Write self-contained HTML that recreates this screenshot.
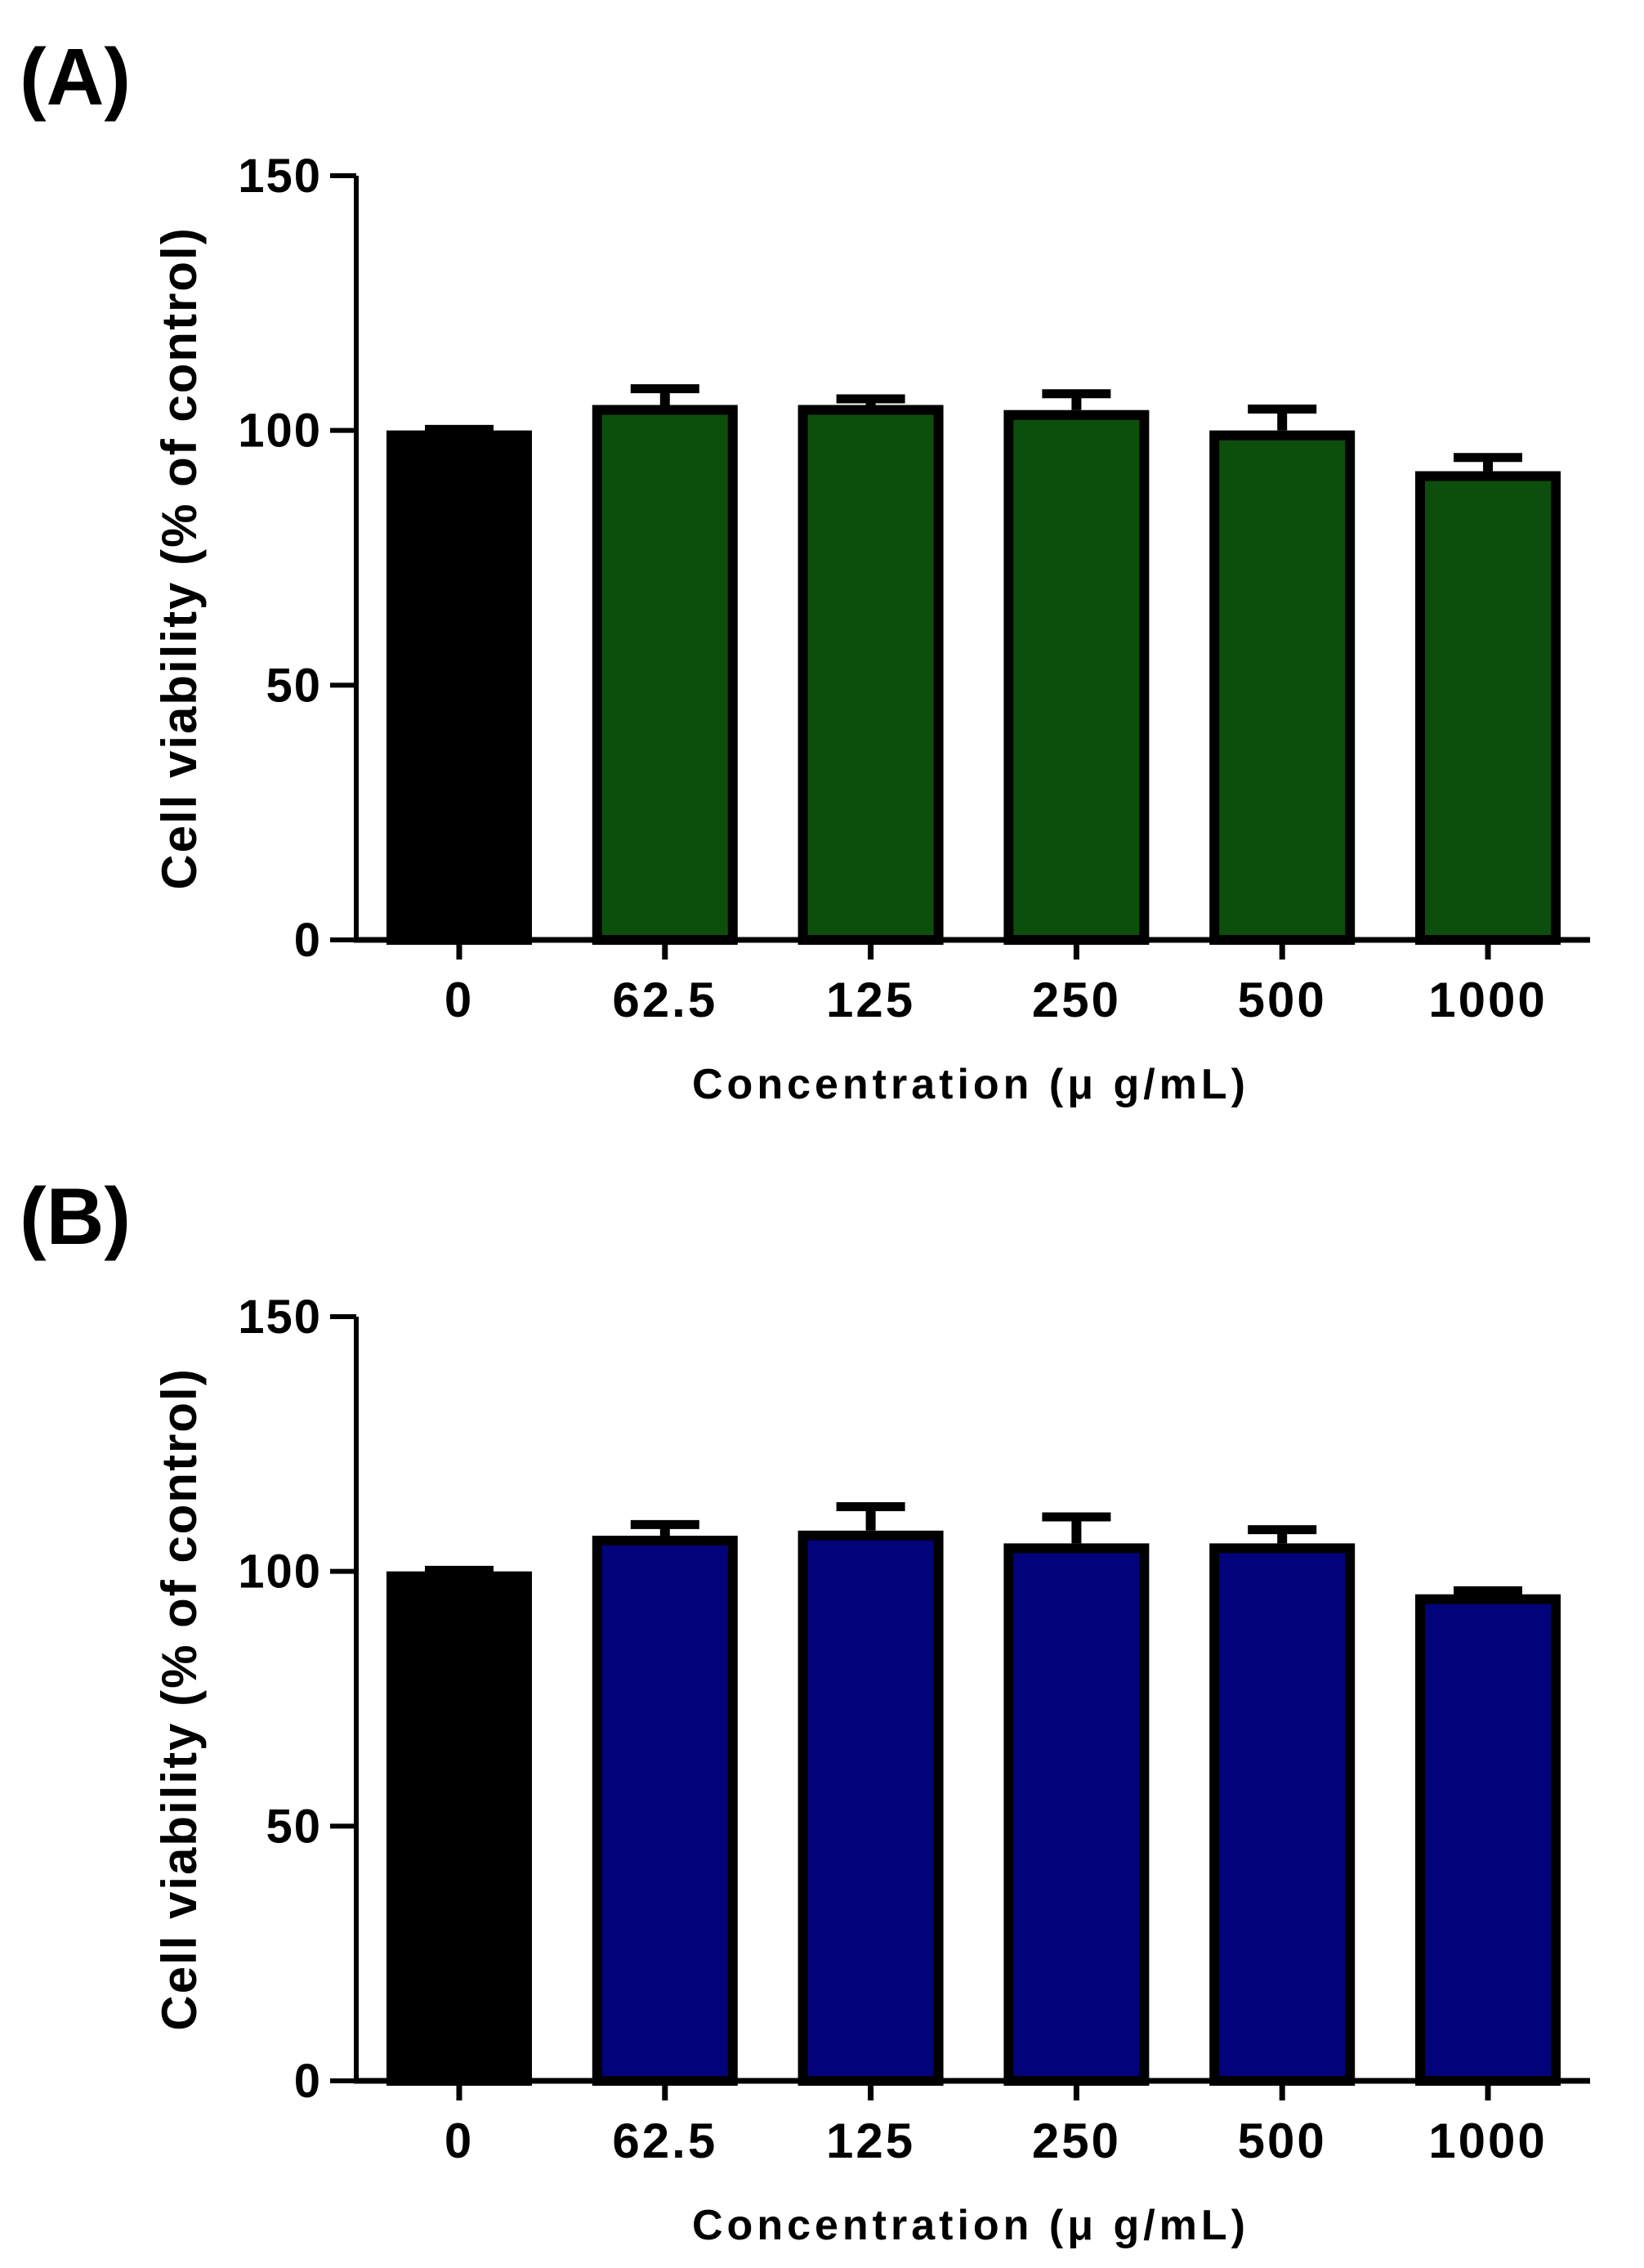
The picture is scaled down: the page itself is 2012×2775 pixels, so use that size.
<!DOCTYPE html>
<html><head><meta charset="utf-8"><style>
html,body{margin:0;padding:0;background:#fff;}
svg{display:block;}
text{font-family:"Liberation Sans",Arial,sans-serif;font-weight:bold;fill:#000;}
</style></head><body>
<svg id="fig" width="2012" height="2775" viewBox="0 0 2012 2775" xmlns="http://www.w3.org/2000/svg">
<text x="24" y="128" font-size="98">(A)</text>
<text x="24" y="1522" font-size="98">(B)</text>
</svg>
<script>
const categories = ["0","62.5","125","250","500","1000"];
const valuesA = [100,105,105,104,100,92];
const errorsA = [1,4,2,4,5,3.5];
const valuesB = [100,107,108,105.5,105.5,95.5];
const errorsB = [1,3,5.5,6,3.5,1.5];
const yTicks = [0,50,100,150];
const NS = "http://www.w3.org/2000/svg";
const svg = document.getElementById('fig');
function mk(tag, attrs, parent){
  const e = document.createElementNS(NS, tag);
  for (const k in attrs) e.setAttribute(k, attrs[k]);
  (parent||svg).appendChild(e);
  return e;
}
function panel(id, top, values, errors, color){
  const g = mk('g', {});
  
  
  const y0 = top + 935, yMax = 150;
  const ax = 436, axEnd = 1946;
  const yS = v => y0 - v / yMax * 935;
  const bw = 178, step = 251.8, x0 = 473;
  const xC = i => x0 + i * step + bw / 2;
  values.forEach((v, i) => {
    const bs = 12;
    const r = mk('rect', {x: x0 + i*step + bs/2, y: yS(v) + bs/2, width: bw - bs, height: y0 - yS(v) - bs/2,
      fill: i === 0 ? '#000' : color, stroke: '#000', 'stroke-width': bs}, g);
    
    
    const e = mk('g', {}, g);
    
    
    const ye = yS(v + errors[i]);
    mk('line', {x1: xC(i), x2: xC(i), y1: yS(v), y2: ye, stroke: '#000', 'stroke-width': 12}, e);
    mk('line', {x1: xC(i) - 42, x2: xC(i) + 42, y1: ye + 5, y2: ye + 5, stroke: '#000', 'stroke-width': 11}, e);
  });
  const ya = mk('line', {x1: ax, x2: ax, y1: top, y2: y0 + 3, stroke: '#000', 'stroke-width': 6}, g);
  
  
  const xa = mk('line', {x1: ax - 3, x2: axEnd, y1: y0, y2: y0, stroke: '#000', 'stroke-width': 7}, g);
  
  
  yTicks.forEach(t => {
    mk('line', {x1: 404, x2: ax, y1: yS(t), y2: yS(t), stroke: '#000', 'stroke-width': 6}, g);
    const tl = mk('text', {x: 394, y: yS(t) + 20, 'font-size': 58, 'text-anchor': 'end', 'letter-spacing': 2}, g);
    tl.textContent = t;
    
    
  });
  categories.forEach((c, i) => {
    mk('line', {x1: xC(i), x2: xC(i), y1: y0, y2: y0 + 24, stroke: '#000', 'stroke-width': 7}, g);
    const tl = mk('text', {x: xC(i), y: y0 + 94, 'font-size': 60, 'text-anchor': 'middle', 'letter-spacing': 3}, g);
    tl.textContent = c;
    
    
  });
  const xt = mk('text', {x: 1188, y: y0 + 194, 'font-size': 52, 'text-anchor': 'middle', 'letter-spacing': 5}, g);
  xt.textContent = 'Concentration (\u03bc g/mL)';
  
  
  const cy = top + 468;
  const yt = mk('text', {x: 0, y: 0, 'font-size': 60, 'text-anchor': 'middle', 'letter-spacing': 2, transform: 'translate(240,' + cy + ') rotate(-90)'}, g);
  yt.textContent = 'Cell viability (% of control)';
  
  
}
panel('a', 215, valuesA, errorsA, '#0c4f0c');
panel('b', 1611, valuesB, errorsB, '#02027a');
</script>
</body></html>
